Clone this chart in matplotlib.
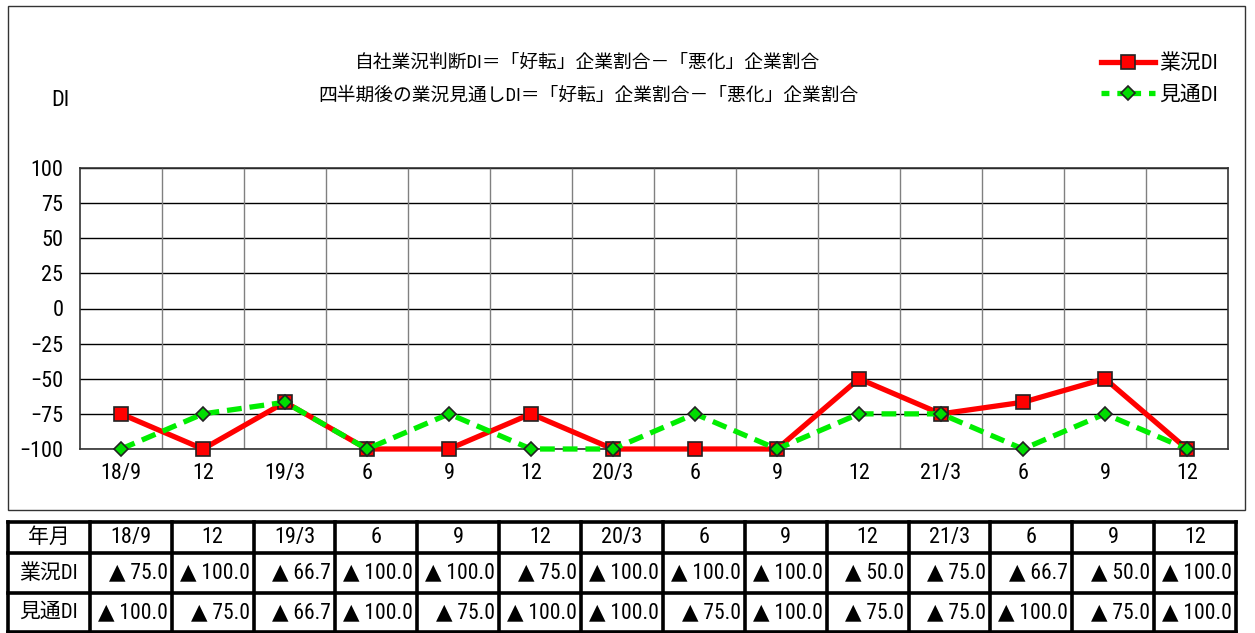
import numpy as np
import matplotlib
matplotlib.use("Agg")
import matplotlib.pyplot as plt
from matplotlib.lines import Line2D
from matplotlib.patches import Rectangle

plt.rcParams['font.family'] = ['Roboto Condensed', 'DejaVu Sans', 'Noto Sans CJK JP']
cjk = ['Roboto Condensed', 'Noto Sans CJK JP', 'DejaVu Sans']

# data
periods = ['18/9', '12', '19/3', '6', '9', '12', '20/3', '6', '9', '12', '21/3', '6', '9', '12']
gyokyo = [-75.0, -100.0, -66.7, -100.0, -100.0, -75.0, -100.0, -100.0, -100.0, -50.0, -75.0, -66.7, -50.0, -100.0]
mitoshi = [-100.0, -75.0, -66.7, -100.0, -75.0, -100.0, -100.0, -75.0, -100.0, -75.0, -75.0, -100.0, -75.0, -100.0]
yticks = [100, 75, 50, 25, 0, -25, -50, -75, -100]
title_lines = ['自社業況判断DI＝「好転」企業割合－「悪化」企業割合',
               '四半期後の業況見通しDI＝「好転」企業割合－「悪化」企業割合']

W, H = 1255, 633
fig = plt.figure(figsize=(W / 100, H / 100), dpi=100)

# outer chart frame
fig.patches.append(Rectangle((8 / W, 1 - 510 / H), 1237 / W, 504 / H, transform=fig.transFigure,
                             fill=False, edgecolor='#333333', lw=1.0))

ax = fig.add_axes([80 / W, 1 - 449 / H, 1148 / W, 281 / H])
x = np.arange(len(periods))
ax.set_xlim(-0.5, len(periods) - 0.5)
ax.set_ylim(-100, 100)
ax.set_yticks(yticks)
ax.set_yticklabels([str(v).replace('-', '−') for v in yticks])
ax.set_xticks(x)
ax.set_xticklabels(periods)
ax.tick_params(length=0, labelsize=16)
ax.tick_params(axis='x', pad=10)
ax.tick_params(axis='y', pad=12)
for v in yticks:
    ax.axhline(v, color='black', lw=1.0, zorder=1)
for k in range(1, len(periods)):
    ax.axvline(k - 0.5, color='#808080', lw=1.0, zorder=1)
for s in ax.spines.values():
    s.set_color('#333333')
    s.set_linewidth(1.2)

ax.plot(x, gyokyo, color='#ff0000', lw=3.8, marker='s', markersize=10,
        markerfacecolor='#ff0000', markeredgecolor='#222222', markeredgewidth=1.2,
        zorder=3, clip_on=False)
ax.plot(x, mitoshi, color='#00ee00', lw=3.8, dashes=(2.8, 1.5), marker='D', markersize=7.5,
        markerfacecolor='#00dd00', markeredgecolor='#222222', markeredgewidth=1.2,
        zorder=4, clip_on=False)

fig.text(588 / W, 1 - 63 / H, title_lines[0], ha='center', va='center', fontsize=13.5, family=cjk)
fig.text(588 / W, 1 - 96 / H, title_lines[1], ha='center', va='center', fontsize=13.5, family=cjk)
fig.text(60 / W, 1 - 100 / H, 'DI', ha='center', va='center', fontsize=16)

handles = [
    Line2D([], [], color='#ff0000', lw=3.8, marker='s', markersize=10,
           markerfacecolor='#ff0000', markeredgecolor='#222222', markeredgewidth=1.2),
    Line2D([], [], color='#00ee00', lw=3.8, dashes=(1.5, 1.5), marker='D', markersize=7.5,
           markerfacecolor='#00dd00', markeredgecolor='#222222', markeredgewidth=1.2),
]
fig.legend(handles, ['業況DI', '見通DI'], loc='center left',
           bbox_to_anchor=(1082 / W, 1 - 79 / H), frameon=False,
           prop={'family': cjk, 'size': 15},
           handlelength=2.6, handletextpad=0.2, labelspacing=0.6)

# table below the chart
tax = fig.add_axes([8 / W, 0, 1228 / W, 112 / H])
ncol = len(periods) + 1
tax.set_xlim(0, ncol)
tax.set_ylim(112, 0)
tax.axis('off')
row_edges = [1, 32, 72, 111]
for yy in row_edges:
    tax.plot([0, ncol], [yy, yy], color='black', lw=2.6, solid_capstyle='projecting', clip_on=False)
for c in range(ncol + 1):
    tax.plot([c, c], [row_edges[0], row_edges[-1]], color='black', lw=2.6, clip_on=False)

row_names = ['年月', '業況DI', '見通DI']
for r, name in enumerate(row_names):
    yc = (row_edges[r] + row_edges[r + 1]) / 2
    tax.text(0.5, yc, name, ha='center', va='center', fontsize=15, family=cjk)
for c, p in enumerate(periods):
    yc = (row_edges[0] + row_edges[1]) / 2
    tax.text(c + 1.5, yc, p, ha='center', va='center', fontsize=16)
    for r, vals in enumerate([gyokyo, mitoshi], start=1):
        yc = (row_edges[r] + row_edges[r + 1]) / 2
        s = ('▲ ' if vals[c] < 0 else '') + '%.1f' % abs(vals[c])
        tax.text(c + 1.95, yc, s, ha='right', va='center', fontsize=15.5)

fig.savefig('out.png', dpi=100)
